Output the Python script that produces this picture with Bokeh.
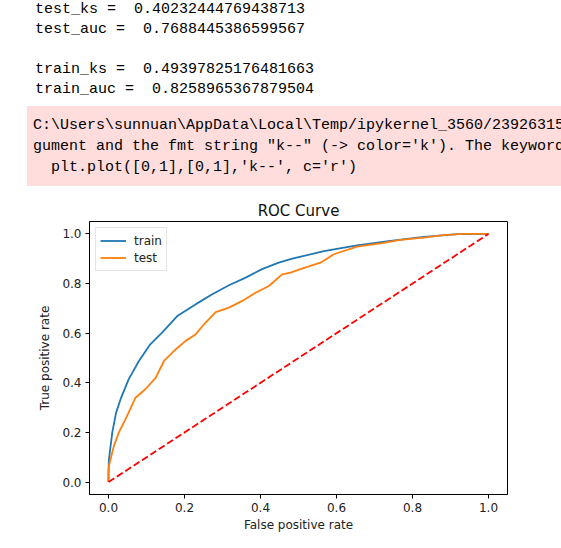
from bokeh.plotting import figure
from bokeh.layouts import column
from bokeh.models import Div, FixedTicker, PrintfTickFormatter, Legend, LegendItem
from bokeh.embed import file_html
from bokeh.resources import INLINE

# ---- data ----
stat_names = ["test_ks", "test_auc", "train_ks", "train_auc"]
stat_values = ["0.40232444769438713", "0.7688445386599567", "0.49397825176481663", "0.8258965367879504"]

warn_lines = [
    r"C:\Users\sunnuan\AppData\Local\Temp/ipykernel_3560/239263158",
    "gument and the fmt string \"k--\" (-> color='k'). The keyword",
    "  plt.plot([0,1],[0,1],'k--', c='r')",
]

train_fpr = [0.0, 0.0, 0.001, 0.01, 0.02, 0.032, 0.053, 0.080, 0.11, 0.141, 0.181, 0.229, 0.273,
             0.317, 0.361, 0.404, 0.448, 0.479, 0.492, 0.567, 0.654, 0.742, 0.83, 0.918, 1.0]
train_tpr = [0.0, 0.04, 0.09, 0.20, 0.28, 0.335, 0.414, 0.488, 0.555, 0.602, 0.669, 0.716, 0.757,
             0.793, 0.824, 0.858, 0.884, 0.898, 0.903, 0.931, 0.954, 0.972, 0.988, 0.999, 1.0]

test_fpr = [0.0, 0.0, 0.001, 0.005, 0.014, 0.027, 0.04, 0.053, 0.071, 0.097, 0.124, 0.146, 0.172,
            0.203, 0.229, 0.255, 0.282, 0.317, 0.352, 0.387, 0.422, 0.457, 0.479, 0.505, 0.558,
            0.593, 0.654, 0.716, 0.768, 0.83, 0.882, 0.935, 1.0]
test_tpr = [0.0, 0.03, 0.065, 0.09, 0.145, 0.199, 0.239, 0.28, 0.34, 0.374, 0.42, 0.488, 0.528,
            0.569, 0.595, 0.642, 0.685, 0.703, 0.73, 0.763, 0.79, 0.837, 0.844, 0.858, 0.884,
            0.918, 0.949, 0.962, 0.976, 0.985, 0.995, 1.0, 1.0]

diag_x = [0, 1]
diag_y = [0, 1]

tick_values = [0.0, 0.2, 0.4, 0.6, 0.8, 1.0]


def esc(s):
    return s.replace("&", "&amp;").replace("<", "&lt;").replace(">", "&gt;").replace('"', "&quot;")


mono = "font-family:&quot;Liberation Mono&quot;,monospace;font-size:15px;color:#000;white-space:pre;"

stat_text = "\n".join([
    f"{stat_names[0]} =  {stat_values[0]}",
    f"{stat_names[1]} =  {stat_values[1]}",
    "",
    f"{stat_names[2]} =  {stat_values[2]}",
    f"{stat_names[3]} =  {stat_values[3]}",
])

div1 = Div(
    text=f'<div style="{mono}line-height:20px;margin:0 0 0 35px;">{esc(stat_text)}</div>',
    width=561, height=106, margin=(0, 0, 0, 0),
)

div2 = Div(
    text=(f'<div style="{mono}line-height:21px;margin-left:27px;width:534px;height:80px;'
          f'background:#ffdddd;overflow:hidden;box-sizing:border-box;padding:9px 0 0 6px;">'
          f'{esc(chr(10).join(warn_lines))}</div>'),
    width=561, height=80, margin=(0, 0, 0, 0),
)

p = figure(
    frame_width=418, frame_height=273,
    min_border_left=89, min_border_right=54, min_border_top=35, min_border_bottom=52,
    x_range=(-0.05, 1.05), y_range=(-0.05, 1.05),
    output_backend="svg", toolbar_location=None,
    title="ROC Curve",
)

p.background_fill_color = "white"
p.border_fill_color = "white"
p.outline_line_color = "black"
p.outline_line_width = 1
p.xgrid.visible = False
p.ygrid.visible = False

p.title.align = "center"
p.title.text_font = "DejaVu Sans"
p.title.text_font_size = "15px"
p.title.text_font_style = "normal"
p.title.text_color = "#111111"
p.title.standoff = 4

for ax in (p.xaxis[0], p.yaxis[0]):
    ax.ticker = FixedTicker(ticks=tick_values)
    ax.formatter = PrintfTickFormatter(format="%.1f")
    ax.major_tick_out = 4
    ax.major_tick_in = 0
    ax.minor_tick_out = 0
    ax.minor_tick_in = 0
    ax.major_label_standoff = 4
    ax.major_label_text_font = "DejaVu Sans"
    ax.major_label_text_font_size = "12px"
    ax.major_label_text_color = "#222222"
    ax.axis_label_text_font = "DejaVu Sans"
    ax.axis_label_text_font_size = "12px"
    ax.axis_label_text_font_style = "normal"
    ax.axis_label_text_color = "#222222"
    ax.axis_line_color = "black"
    ax.major_tick_line_color = "black"

p.xaxis.axis_label = "False positive rate"
p.yaxis.axis_label = "True positive rate"
p.xaxis.axis_label_standoff = 3
p.yaxis.axis_label_standoff = 7

r_train = p.line(train_fpr, train_tpr, line_color="#1f77b4", line_width=1.8)
r_test = p.line(test_fpr, test_tpr, line_color="#ff7f0e", line_width=1.8)
p.line(diag_x, diag_y, line_color="#ff0000", line_width=1.8, line_dash="7 3")

legend = Legend(
    items=[LegendItem(label="train", renderers=[r_train]), LegendItem(label="test", renderers=[r_test])],
    location="top_left", margin=6, padding=4, spacing=0,
    glyph_width=26, glyph_height=17, label_height=17, label_standoff=8,
    label_text_font="DejaVu Sans", label_text_font_size="12px", label_text_color="#222222",
    border_line_color="#cccccc", background_fill_alpha=0.8,
)
p.add_layout(legend)

layout = column(div1, div2, p, spacing=0)

open("out.html", "w").write(file_html(layout, INLINE))
